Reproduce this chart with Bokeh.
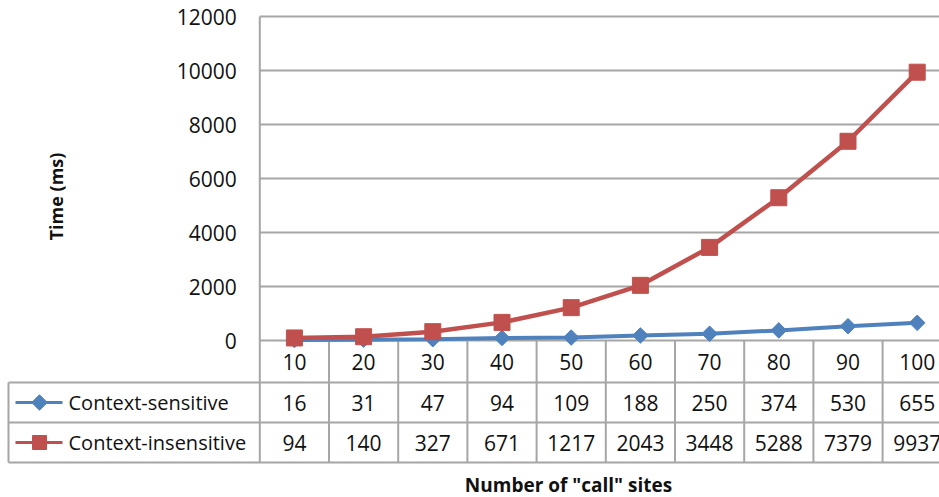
import math

from bokeh.core.properties import value
from bokeh.embed import file_html
from bokeh.models import Range1d
from bokeh.plotting import figure
from bokeh.resources import INLINE

# ---- data -----------------------------------------------------------------
call_sites = [10, 20, 30, 40, 50, 60, 70, 80, 90, 100]
context_sensitive = [16, 31, 47, 94, 109, 188, 250, 374, 530, 655]
context_insensitive = [94, 140, 327, 671, 1217, 2043, 3448, 5288, 7379, 9937]
series_names = ["Context-sensitive", "Context-insensitive"]
y_ticks = [0, 2000, 4000, 6000, 8000, 10000, 12000]
y_title = "Time (ms)"
x_title = 'Number of "call" sites'

# ---- layout (pixels) --------------------------------------------------------
W, H = 939, 497
PLOT_LEFT = 259.3          # left edge of the plot area / first data column
COL_W = 69.2               # width of one category column
ZERO_Y = 340.0             # pixel row of value 0
TOP_Y = 16.0               # pixel row of the top tick value
TABLE_LEFT = 8.0
ROW_EDGES = [340.0, 382.0, 422.0, 462.0]   # header row, then one row per series

BLUE = "#4F81BD"
RED = "#C0504D"
GRID = "#a6a6a6"
TEXT = "#111111"
FONT = value("Open Sans")
NUM_SIZE = "21px"

px_per_unit = (ZERO_Y - TOP_Y) / y_ticks[-1]
x_start = 0.5 - PLOT_LEFT / COL_W
x_end = 0.5 + (W - PLOT_LEFT) / COL_W
y_start = -(H - ZERO_Y) / px_per_unit
y_end = ZERO_Y / px_per_unit

p = figure(width=W, height=H, output_backend="svg", toolbar_location=None,
           x_range=Range1d(x_start, x_end), y_range=Range1d(y_start, y_end),
           x_axis_location=None, y_axis_location=None,
           min_border=0, min_border_left=0, min_border_right=0,
           min_border_top=0, min_border_bottom=0,
           outline_line_color=None, background_fill_color="white",
           border_fill_color="white")
p.grid.visible = False
# pixel-space ranges for the table, legend keys and titles
p.extra_x_ranges = {"px": Range1d(0, W)}
p.extra_y_ranges = {"px": Range1d(H, 0)}

idx = list(range(1, len(call_sites) + 1))
n_ticks = len(y_ticks)

# horizontal gridlines across the plot area
p.segment(x0=[0.5] * n_ticks, y0=y_ticks, x1=[x_end + 1] * n_ticks, y1=y_ticks,
          line_color=GRID, line_width=2)

# left border of the plot area, continued down through the table
p.segment(x0=[PLOT_LEFT], y0=[TOP_Y], x1=[PLOT_LEFT], y1=[ROW_EDGES[-1]],
          line_color=GRID, line_width=2, x_range_name="px", y_range_name="px")

# table: horizontal rules below the header and series rows
rules = ROW_EDGES[1:]
p.segment(x0=[TABLE_LEFT] * len(rules), y0=rules, x1=[W + 20] * len(rules), y1=rules,
          line_color=GRID, line_width=2, x_range_name="px", y_range_name="px")
# left edge of the legend column
p.segment(x0=[TABLE_LEFT], y0=[ROW_EDGES[1]], x1=[TABLE_LEFT], y1=[ROW_EDGES[-1]],
          line_color=GRID, line_width=2, x_range_name="px", y_range_name="px")
# column separators between categories
seps = [i + 0.5 for i in idx]
p.segment(x0=seps, y0=[ROW_EDGES[0]] * len(seps), x1=seps, y1=[ROW_EDGES[-1]] * len(seps),
          line_color=GRID, line_width=2, y_range_name="px")

# y tick labels
p.text(x=[PLOT_LEFT - 23] * n_ticks, y=y_ticks, text=[str(t) for t in y_ticks],
       x_range_name="px", text_align="right", text_baseline="middle",
       text_font=FONT, text_font_size=NUM_SIZE, text_color=TEXT)

# table contents
row_mid = [(ROW_EDGES[k] + ROW_EDGES[k + 1]) / 2 for k in range(3)]
p.text(x=idx, y=[row_mid[0]] * len(idx), text=[str(c) for c in call_sites],
       y_range_name="px", text_align="center", text_baseline="middle",
       text_font=FONT, text_font_size=NUM_SIZE, text_color=TEXT)
p.text(x=idx, y=[row_mid[1]] * len(idx), text=[str(v) for v in context_sensitive],
       y_range_name="px", text_align="center", text_baseline="middle",
       text_font=FONT, text_font_size=NUM_SIZE, text_color=TEXT)
p.text(x=idx, y=[row_mid[2]] * len(idx), text=[str(v) for v in context_insensitive],
       y_range_name="px", text_align="center", text_baseline="middle",
       text_font=FONT, text_font_size=NUM_SIZE, text_color=TEXT)

# series
p.line(idx, context_sensitive, line_color=BLUE, line_width=4)
p.scatter(idx, context_sensitive, marker="square", angle=math.pi / 4, size=11,
          fill_color=BLUE, line_color=BLUE)
p.line(idx, context_insensitive, line_color=RED, line_width=4.5)
p.scatter(idx, context_insensitive, marker="square", size=16,
          fill_color=RED, line_color=RED)

# legend keys inside the table's first column
key_x0, key_x1, key_mid = 15, 62, 39
p.segment(x0=[key_x0], y0=[row_mid[1]], x1=[key_x1], y1=[row_mid[1]],
          line_color=BLUE, line_width=3, x_range_name="px", y_range_name="px")
p.scatter([key_mid], [row_mid[1]], marker="square", angle=math.pi / 4, size=11,
          fill_color=BLUE, line_color=BLUE, x_range_name="px", y_range_name="px")
p.segment(x0=[key_x0], y0=[row_mid[2]], x1=[key_x1], y1=[row_mid[2]],
          line_color=RED, line_width=3, x_range_name="px", y_range_name="px")
p.scatter([key_mid], [row_mid[2]], marker="square", size=14,
          fill_color=RED, line_color=RED, x_range_name="px", y_range_name="px")
p.text(x=[68, 68], y=row_mid[1:], text=series_names,
       x_range_name="px", y_range_name="px", text_align="left", text_baseline="middle",
       text_font=FONT, text_font_size="20px", text_color=TEXT)

# axis titles
p.text(x=[55], y=[196], text=[y_title], angle=math.pi / 2,
       x_range_name="px", y_range_name="px", text_align="center", text_baseline="middle",
       text_font=FONT, text_font_size="18px", text_font_style="bold", text_color=TEXT)
p.text(x=[568], y=[484], text=[x_title],
       x_range_name="px", y_range_name="px", text_align="center", text_baseline="middle",
       text_font=FONT, text_font_size="19px", text_font_style="bold", text_color=TEXT)

open("out.html", "w").write(file_html(p, INLINE))
